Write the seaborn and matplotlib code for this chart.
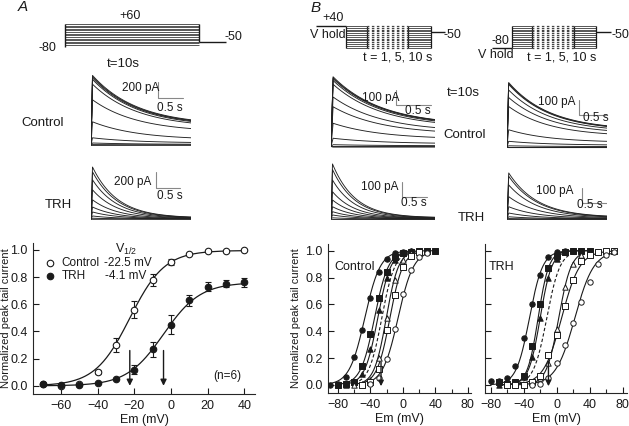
import numpy as np
import pandas as pd
import matplotlib
matplotlib.use("Agg")
import matplotlib.pyplot as plt
import seaborn as sns

# ---------------- data ----------------
# panel A : normalized peak tail current vs Em (n=6)
em_a = [-70, -60, -50, -40, -30, -20, -10, 0, 10, 20, 30, 40]
ctrl_a = [0.01, 0.0, 0.01, 0.10, 0.30, 0.56, 0.78, 0.91, 0.97, 0.99, 0.99, 0.995]
ctrl_a_err = [0.0, 0.0, 0.0, 0.015, 0.05, 0.06, 0.045, 0.025, 0.0, 0.0, 0.0, 0.0]
trh_a = [0.01, 0.005, 0.005, 0.02, 0.05, 0.12, 0.27, 0.45, 0.63, 0.73, 0.75, 0.76]
trh_a_err = [0.0, 0.0, 0.0, 0.0, 0.0, 0.03, 0.055, 0.07, 0.04, 0.03, 0.025, 0.03]
# Boltzmann fits: amplitude, V1/2, slope
fit_ctrl_a = (0.995, -22.5, 9.5)
fit_trh_a = (0.76, -4.1, 10.0)

# panel B : families for V hold +40 (filled) / -80 (open), t = 1, 5, 10 s
# each: Em, values, V1/2, slope, marker, filled
b_ctrl = [
    ([-90, -80, -70, -60, -50, -40, -30, -20, -10, 0, 10],
     [0.0, 0.01, 0.06, 0.21, 0.41, 0.65, 0.84, 0.94, 0.98, 0.99, 1.0], -47, 9.5, "o", True),
    ([-80, -70, -60, -50, -40, -30, -20, -10, 0, 10, 20, 30, 40],
     [0.0, 0.01, 0.02, 0.14, 0.38, 0.65, 0.84, 0.95, 0.98, 0.99, 1.0, 1.0, 1.0], -35, 8.5, "s", True),
    ([-70, -60, -50, -40, -30, -20, -10, 0, 10],
     [0.0, 0.02, 0.08, 0.27, 0.56, 0.80, 0.93, 0.98, 1.0], -31, 8, "^", True),
    ([-60, 20], None, -26, 8, None, None),
    ([-60, -50, -40, -30, -20, -10, 0, 10, 20],
     [0.0, 0.01, 0.04, 0.20, 0.50, 0.78, 0.93, 0.98, 1.0], -20.5, 7.5, "^", False),
    ([-50, -40, -30, -20, -10, 0, 10, 20],
     [0.0, 0.02, 0.12, 0.41, 0.67, 0.88, 0.96, 0.99], -16, 8, "s", False),
    ([-40, -30, -20, -10, 0, 10, 20, 30],
     [0.01, 0.05, 0.19, 0.42, 0.68, 0.86, 0.95, 0.98], -6, 9.5, "o", False),
]
b_trh = [
    ([-80, -70, -60, -50, -40, -30, -20, -10, 0, 10, 20, 30, 40],
     [0.03, 0.03, 0.05, 0.14, 0.35, 0.60, 0.82, 0.95, 0.99, 1.0, 1.0, 1.0, 1.0], -33, 8, "o", True),
    ([-70, -60, -50, -40, -30, -20, -10, 0, 10, 20, 30, 40],
     [0.02, 0.01, 0.02, 0.07, 0.29, 0.60, 0.87, 0.96, 0.99, 1.0, 1.0, 1.0], -22.5, 6.5, "s", True),
    ([-70, -60, -50, -40, -30, -20, -10, 0, 10],
     [0.0, 0.0, 0.02, 0.06, 0.21, 0.50, 0.80, 0.94, 0.99], -20, 7, "^", True),
    ([-60, 20], None, -12, 8, None, None),
    ([-50, -40, -30, -20, -10, 0, 10, 20, 30],
     [0.0, 0.0, 0.02, 0.05, 0.16, 0.42, 0.73, 0.90, 0.97], 2.5, 7.5, "^", False),
    ([-60, -50, -40, -30, -20, -10, 0, 10, 20, 30, 40, 50, 60, 70],
     [0.0, 0.0, 0.0, 0.02, 0.07, 0.22, 0.37, 0.59, 0.78, 0.92, 0.97, 0.99, 1.0, 1.0], 6, 11, "s", False),
    ([-30, -20, -10, 0, 10, 20, 30, 40, 50, 60, 70],
     [0.0, 0.01, 0.05, 0.16, 0.30, 0.46, 0.62, 0.77, 0.90, 0.97, 0.99], 22, 11.5, "o", False),
]
arrow_b = {"Control": -27, "TRH": -10}

# voltage protocols (mV, s)
steps_a = [-70, -60, -50, -40, -30, -20, -10, 0, 10, 20, 30, 40, 50, 60]
hold_a, tail_a, step_dur_a, tail_dur_a = -80, -50, 10, 2
steps_b = [-80, -70, -60, -50, -40, -30, -20, -10, 0, 10, 20, 30, 40]
solid_b = [(0, 2.45), (7.33, 10)]
dashed_b = (2.45, 7.33)
tail_dur_b = 1.7
tail_draw_b = 7  # -50 mV tail, drawn off scale as in the sketch

# sample tail currents (pA): peak, steady level, decay tau (s)
tr_a_ctrl = ([870, 855, 840, 820, 760, 565, 290, 90, 25, 5, -5],
             [245, 240, 236, 228, 215, 160, 65, 25, 8, 2, -4], 0.9)
tr_a_trh = ([650, 590, 490, 365, 240, 150, 88, 38, 10, -4],
            [12, 11, 9, 7, 5, 3, 2, 1, 0, -3], 0.5)
tr_b_ctrl_l = ([465, 458, 452, 440, 415, 330, 265, 155, 55, 12, 0, -4],
               [140, 139, 137, 133, 125, 98, 80, 48, 18, 5, 0, -4], 0.7)
tr_b_ctrl_r = ([430, 424, 418, 380, 330, 270, 115, 38, 8, 0, -4],
               [112, 110, 108, 100, 88, 70, 30, 12, 3, 0, -4], 0.75)
tr_b_trh_l = ([367, 330, 260, 182, 127, 82, 49, 27, 8, -3],
              [8, 7, 6, 5, 4, 3, 2, 1, 0, -3], 0.45)
tr_b_trh_r = ([307, 285, 227, 149, 82, 40, 15, 3, -3],
              [10, 9, 8, 6, 4, 2, 1, 0, -3], 0.5)

# ---------------- figure ----------------
sns.set_style("ticks")
plt.rcParams["font.family"] = ["Liberation Sans", "DejaVu Sans"]
plt.rcParams["xtick.direction"] = "in"
plt.rcParams["ytick.direction"] = "in"
plt.rcParams["axes.linewidth"] = 0.8

W, H = 629, 426
fig = plt.figure(figsize=(W / 100, H / 100), dpi=100)
INK = "#1a1a1a"


def ax_px(x0, y0, x1, y1):
    return fig.add_axes([x0 / W, 1 - y1 / H, (x1 - x0) / W, (y1 - y0) / H])


def txt(x, y, s, size=9, **kw):
    kw.setdefault("ha", "center")
    kw.setdefault("va", "center")
    fig.text(x / W, 1 - y / H, s, fontsize=size, color=INK, **kw)


def boltz(v, vh, k, amp=1.0):
    return amp / (1 + np.exp((vh - v) / k))


def traces(rect, tmax, ylim, tr, bar):
    ax = ax_px(*rect)
    peaks, ss, tau = tr
    rows = []
    for n, (p, s) in enumerate(zip(peaks, ss)):
        t = np.linspace(0.03, tmax, 120)
        rows.append(pd.DataFrame({"t": [0.0], "i": [0.0], "n": n}))
        rows.append(pd.DataFrame({"t": t, "i": s + (p - s) * np.exp(-(t - 0.03) / tau), "n": n}))
    df = pd.concat(rows)
    sns.lineplot(data=df, x="t", y="i", units="n", estimator=None, sort=False,
                 color="#222222", lw=0.65, ax=ax)
    ax.set_xlim(0, tmax)
    ax.set_ylim(*ylim)
    ax.axis("off")
    # scale bar: (t0, i0, bar pA, bar s)
    t0, i0, di, dt = bar
    ax.plot([t0, t0, t0 + dt], [i0 + di, i0, i0], color="#888888", lw=0.8)
    return ax


# panel letters
txt(23, 7, "A", size=11, style="italic")
txt(316, 8, "B", size=11, style="italic")

# ---- protocol A
pa = ax_px(40, 10, 260, 52)
pa.hlines(steps_a, 0, step_dur_a, color="#555555", lw=0.7)
pa.vlines(0, hold_a, max(steps_a), color=INK, lw=1)
pa.vlines(step_dur_a, tail_a, max(steps_a), color=INK, lw=1)
pa.hlines(tail_a, step_dur_a, step_dur_a + tail_dur_a, color=INK, lw=1)
pa.set_xlim(-1.87, 14.55)
pa.set_ylim(-112.7, 146.5)
pa.axis("off")
txt(130, 16, "+60")
txt(47, 48, "-80")
txt(233, 37, "-50")
txt(123, 64, "t=10s", size=9.5)

# ---- protocols B
for rect, xl, hold_from, hold_v in [((312, 12, 470, 52), (-4.01, 14.64), -3.54, 40),
                                    ((478, 12, 629, 52), (-3.98, 13.85), -2.36, -80)]:
    pb = ax_px(*rect)
    pb.hlines(hold_v, hold_from, 0, color=INK, lw=1)
    for a, b in solid_b:
        pb.hlines(steps_b, a, b, color="#555555", lw=0.7)
        pb.vlines([a, b], min(steps_b), max(steps_b), color=INK, lw=0.9)
    pb.hlines(steps_b, dashed_b[0], dashed_b[1], color="#444444", lw=0.9,
              linestyles=(0.5, (2.0, 2.0)))
    pb.hlines(tail_draw_b, 10, 10 + tail_dur_b, color=INK, lw=1)
    pb.set_xlim(*xl)
    pb.set_ylim(-103.8, 117.3)
    pb.axis("off")
txt(333, 18, "+40")
txt(328, 35, "V hold")
txt(452, 35, "-50")
txt(398, 58, "t = 1, 5, 10 s")
txt(500, 41, "-80")
txt(496, 55, "V hold")
txt(620, 35, "-50")
txt(562, 58, "t = 1, 5, 10 s")

# ---- sample currents
traces((91, 70, 191, 150), 2.0, (-62.5, 937.5), tr_a_ctrl, (1.34, 587.5, 200, 0.5))
traces((91, 160, 191, 224), 2.0, (-62.5, 737.5), tr_a_trh, (1.29, 387.5, 200, 0.5))
traces((331, 72, 435, 152), 1.5, (-36.7, 496.7), tr_b_ctrl_l, (0.937, 276.7, 100, 0.5))
traces((507, 78, 607, 153), 1.81, (-40, 460), tr_b_ctrl_r, (1.30, 213, 100, 0.5))
traces((331, 158, 435, 224), 2.08, (-33.3, 406.7), tr_b_trh_l, (1.42, 148, 100, 0.5))
traces((507, 158, 607, 224), 1.74, (-33.3, 406.7), tr_b_trh_r, (1.31, 106.7, 100, 0.5))

txt(141, 88, "200 pA", size=8.5)
txt(170, 108, "0.5 s", size=8.5)
txt(133, 182, "200 pA", size=8.5)
txt(170, 196, "0.5 s", size=8.5)
txt(43, 123, "Control", size=9.5)
txt(58, 205, "TRH", size=9.5)
txt(381, 98, "100 pA", size=8.5)
txt(418, 111, "0.5 s", size=8.5)
txt(557, 102, "100 pA", size=8.5)
txt(596, 118, "0.5 s", size=8.5)
txt(380, 187, "100 pA", size=8.5)
txt(414, 203, "0.5 s", size=8.5)
txt(555, 191, "100 pA", size=8.5)
txt(590, 205, "0.5 s", size=8.5)
txt(463, 93, "t=10s", size=9.5)
txt(465, 135, "Control", size=9.5)
txt(471, 218, "TRH", size=9.5)


def style_iv(ax, xlim, xmaj, xmin=None, ylabels=True):
    ax.set_xlim(*xlim)
    ax.set_ylim(-0.06, 1.05)
    ax.set_xticks(xmaj)
    if xmin is not None:
        ax.set_xticks(xmin, minor=True)
    ax.set_yticks([0, 0.2, 0.4, 0.6, 0.8, 1.0])
    ax.set_yticklabels(["%.1f" % v for v in [0, 0.2, 0.4, 0.6, 0.8, 1.0]] if ylabels else [])
    ax.tick_params(which="major", length=4, width=0.8, labelsize=9, colors=INK, pad=4)
    ax.tick_params(which="minor", length=3, width=0.8)
    ax.set_xlabel("Em (mV)", fontsize=9, color=INK, labelpad=2)
    sns.despine(ax=ax)


# ---- panel A I-V
ax = ax_px(33, 243, 255, 394)
for amp_vh_k, ys, err, face in [(fit_ctrl_a, ctrl_a, ctrl_a_err, "white"),
                                (fit_trh_a, trh_a, trh_a_err, INK)]:
    amp, vh, k = amp_vh_k
    xs = np.linspace(em_a[0], em_a[-1], 200)
    sns.lineplot(x=xs, y=boltz(xs, vh, k, amp), color=INK, lw=0.9, ax=ax)
    ax.errorbar(em_a, ys, yerr=err, fmt="none", ecolor=INK, elinewidth=0.8, capsize=2.2, capthick=0.8)
    sns.scatterplot(x=em_a, y=ys, marker="o", s=22, color=face, edgecolor=INK, linewidth=0.8,
                    zorder=3, ax=ax)
for vh in [fit_ctrl_a[1], fit_trh_a[1]]:
    ax.annotate("", xy=(vh, -0.02), xytext=(vh, 0.28),
                arrowprops=dict(arrowstyle="-|>", color=INK, lw=1, mutation_scale=9))
style_iv(ax, (-75.3, 45.8), [-60, -40, -20, 0, 20, 40])
ax.set_ylabel("Normalized peak tail current", fontsize=8, color=INK)
ax.yaxis.set_label_coords(-0.1, 0.5)
ax.scatter([-66], [0.902], s=22, facecolor="white", edgecolor=INK, linewidth=0.8)
ax.scatter([-66], [0.804], s=22, facecolor=INK, edgecolor=INK, linewidth=0.8)
ax.text(-59.6, 0.902, "Control", fontsize=8.5, va="center", color=INK)
ax.text(-59.6, 0.804, "TRH", fontsize=8.5, va="center", color=INK)
ax.text(-36.6, 0.902, "-22.5 mV", fontsize=8.5, va="center", color=INK)
ax.text(-35.8, 0.804, "-4.1 mV", fontsize=8.5, va="center", color=INK)
ax.text(-24.7, 1.0, r"V$_{\mathregular{1/2}}$", fontsize=9, ha="center", va="center", color=INK)
ax.text(30.5, 0.07, "(n=6)", fontsize=8.5, ha="center", va="center", color=INK)

# ---- panel B I-V
for rect, fam, xlim, name, lab_px in [((328, 244, 471, 393), b_ctrl, (-92.3, 83.8), "Control", (355, 267)),
                                      ((485, 244, 627, 393), b_trh, (-86.9, 85.2), "TRH", (502, 267))]:
    ax = ax_px(*rect)
    for em, ys, vh, k, mk, filled in fam:
        xs = np.linspace(em[0], em[-1], 200)
        if ys is None:
            sns.lineplot(x=xs, y=boltz(xs, vh, k), color=INK, lw=0.8, linestyle=(0, (3, 2)), ax=ax)
            continue
        sns.lineplot(x=xs, y=boltz(xs, vh, k), color=INK, lw=0.8, ax=ax)
        sns.scatterplot(x=em, y=ys, marker=mk, s=15, color=INK if filled else "white",
                        edgecolor=INK, linewidth=0.7, zorder=3, ax=ax)
    v = arrow_b[name]
    ax.annotate("", xy=(v, -0.03), xytext=(v, 0.19),
                arrowprops=dict(arrowstyle="-|>", color=INK, lw=1, mutation_scale=8))
    style_iv(ax, xlim, [-80, -40, 0, 40, 80], [-60, -20, 20, 60], ylabels=(name == "Control"))
    if name == "Control":
        ax.set_ylabel("Normalized peak tail current", fontsize=8, color=INK)
        ax.yaxis.set_label_coords(-0.19, 0.5)
    txt(lab_px[0], lab_px[1], name, size=9)

fig.savefig("out.png", dpi=100)
